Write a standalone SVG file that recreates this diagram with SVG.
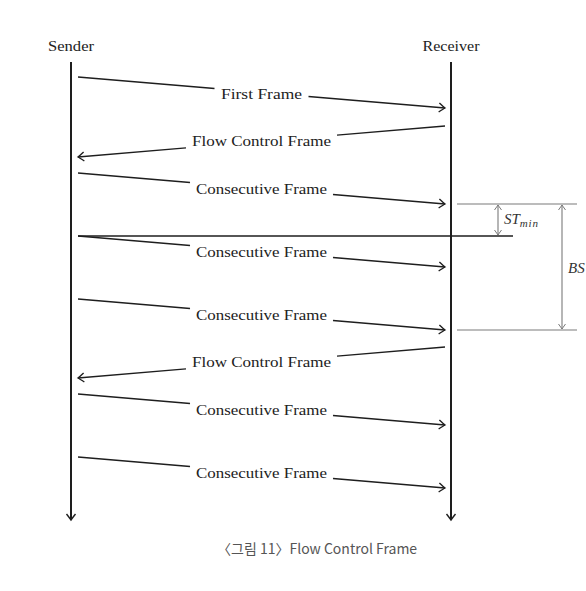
<svg xmlns="http://www.w3.org/2000/svg" width="586" height="591" viewBox="0 0 586 591">
<defs>
<style>
.ln{stroke:#1e1e1e;stroke-width:1.4;fill:none}
.life{stroke:#1e1e1e;stroke-width:2;fill:none}
.grid{stroke:#7a7a7a;stroke-width:1.1;fill:none}
.lbl{font-family:"Liberation Serif","Times New Roman",serif;font-size:15px;fill:#222;text-anchor:middle}
.math{font-family:"Liberation Serif","Times New Roman",serif;font-style:italic;font-size:15px;fill:#333}
.cap{font-family:"Noto Sans CJK KR","Noto Sans",sans-serif;font-size:14px;fill:#555}
</style>
<marker id="ah" viewBox="-8 -6 10 12" markerWidth="10" markerHeight="12" refX="0" refY="0" orient="auto" markerUnits="userSpaceOnUse">
<path d="M-6,-4.5 Q-1.5,-1 0,0 Q-1.5,1 -6,4.5" fill="none" stroke="#1e1e1e" stroke-width="1.4"/>
</marker>
<marker id="ahg" viewBox="-8 -6 10 12" markerWidth="10" markerHeight="12" refX="0" refY="0" orient="auto-start-reverse" markerUnits="userSpaceOnUse">
<path d="M-5,-3.5 Q-1.2,-0.8 0,0 Q-1.2,0.8 -5,3.5" fill="none" stroke="#7a7a7a" stroke-width="1"/>
</marker>
</defs>
<rect width="586" height="591" fill="#fff"/>

<g id="sender">
<text class="lbl" x="71" y="51" textLength="46" lengthAdjust="spacingAndGlyphs">Sender</text>
<line class="life" x1="71" y1="62" x2="71" y2="520" marker-end="url(#ah)"/>
</g>
<g id="receiver">
<text class="lbl" x="451" y="51" textLength="57" lengthAdjust="spacingAndGlyphs">Receiver</text>
<line class="life" x1="451" y1="62" x2="451" y2="520" marker-end="url(#ah)"/>
</g>

<g id="connectors">
<path class="ln" d="M78,77 L214.5,88.5"/>
<path class="ln" d="M308.5,96.5 L445,108" marker-end="url(#ah)"/>
<path class="ln" d="M445,126 L337,135.1"/>
<path class="ln" d="M186,147.9 L78,157" marker-end="url(#ah)"/>
<path class="ln" d="M78,173 L190,182.5"/>
<path class="ln" d="M333,194.5 L445,204" marker-end="url(#ah)"/>
<path class="ln" d="M78,236 L190,245.5"/>
<path class="ln" d="M333,257.5 L445,267" marker-end="url(#ah)"/>
<path class="ln" d="M78,299 L190,308.5"/>
<path class="ln" d="M333,320.5 L445,330" marker-end="url(#ah)"/>
<path class="ln" d="M445,347 L337,356.1"/>
<path class="ln" d="M186,368.9 L78,378" marker-end="url(#ah)"/>
<path class="ln" d="M78,394 L190,403.5"/>
<path class="ln" d="M333,415.5 L445,425" marker-end="url(#ah)"/>
<path class="ln" d="M78,457 L190,466.5"/>
<path class="ln" d="M333,478.5 L445,488" marker-end="url(#ah)"/>
</g>

<g id="labels">
<text class="lbl" x="261.5" y="98.5" textLength="81" lengthAdjust="spacingAndGlyphs">First Frame</text>
<text class="lbl" x="261.5" y="146" textLength="139" lengthAdjust="spacingAndGlyphs">Flow Control Frame</text>
<text class="lbl" x="261.5" y="193.5" textLength="131" lengthAdjust="spacingAndGlyphs">Consecutive Frame</text>
<text class="lbl" x="261.5" y="256.5" textLength="131" lengthAdjust="spacingAndGlyphs">Consecutive Frame</text>
<text class="lbl" x="261.5" y="319.5" textLength="131" lengthAdjust="spacingAndGlyphs">Consecutive Frame</text>
<text class="lbl" x="261.5" y="367" textLength="139" lengthAdjust="spacingAndGlyphs">Flow Control Frame</text>
<text class="lbl" x="261.5" y="414.5" textLength="131" lengthAdjust="spacingAndGlyphs">Consecutive Frame</text>
<text class="lbl" x="261.5" y="477.5" textLength="131" lengthAdjust="spacingAndGlyphs">Consecutive Frame</text>
</g>

<g id="timing">
<line class="ln" x1="78" y1="236" x2="513" y2="236"/>
<line class="grid" x1="457" y1="204" x2="577" y2="204"/>
<line class="grid" x1="457" y1="330" x2="577" y2="330"/>
<line class="grid" x1="498" y1="205" x2="498" y2="235" marker-start="url(#ahg)" marker-end="url(#ahg)"/>
<line class="grid" x1="562" y1="205" x2="562" y2="329" marker-start="url(#ahg)" marker-end="url(#ahg)"/>
<text class="math" x="504" y="224">ST<tspan font-size="11" dy="3" letter-spacing="0.8">min</tspan></text>
<text class="math" x="568" y="273">BS</text>
</g>

<text class="cap" x="217" y="554">〈그림 11〉Flow Control Frame</text>
</svg>
